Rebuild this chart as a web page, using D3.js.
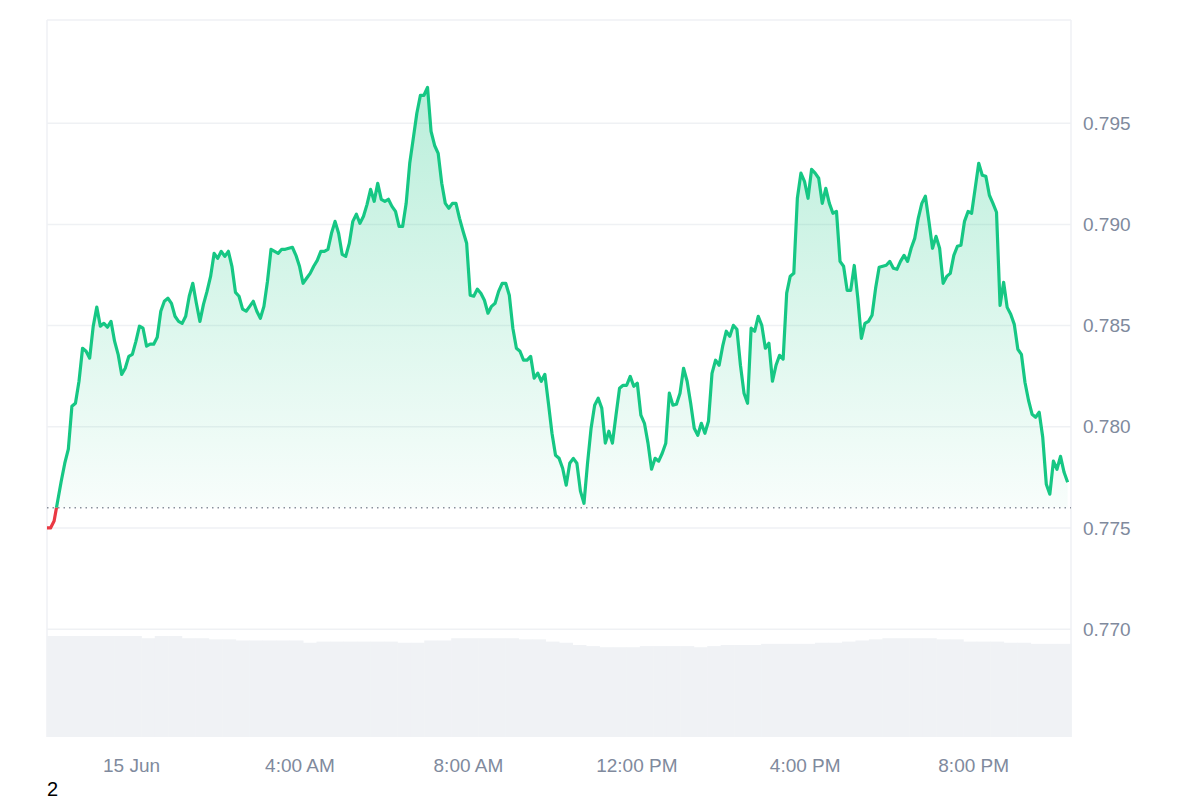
<!DOCTYPE html>
<html><head><meta charset="utf-8">
<script src="https://cdn.jsdelivr.net/npm/d3@7"></script>
<style>body{margin:0;background:#fff;font-family:"Liberation Sans",Arial,sans-serif}</style>
</head><body><svg id="c" width="1200" height="800"></svg>
<script>
const prices=[0.775,0.775,0.77534,0.77633,0.77731,0.7782,0.77889,0.78101,0.78116,0.78225,0.78388,0.78373,0.78339,0.78497,0.78591,0.78497,0.78511,0.78492,0.78521,0.78423,0.78358,0.78259,0.78289,0.78348,0.78358,0.78422,0.78497,0.78487,0.78398,0.78408,0.78408,0.78442,0.78571,0.7862,0.78635,0.7861,0.78546,0.78521,0.78511,0.78546,0.78645,0.78709,0.7861,0.78521,0.78605,0.78669,0.78743,0.78857,0.78832,0.78867,0.78842,0.78867,0.78793,0.78664,0.78645,0.78581,0.78571,0.78595,0.7862,0.78571,0.78536,0.78595,0.78719,0.78877,0.78867,0.78857,0.78877,0.78877,0.78882,0.78887,0.78847,0.78793,0.78709,0.78734,0.78758,0.78793,0.78822,0.78867,0.78867,0.78877,0.78956,0.79015,0.78956,0.78852,0.78842,0.78906,0.79015,0.7905,0.79005,0.7904,0.79099,0.79173,0.79114,0.79203,0.79124,0.79114,0.79124,0.79089,0.79064,0.7899,0.7899,0.79104,0.79302,0.79425,0.79549,0.79638,0.79638,0.79677,0.79460,0.7939,0.79351,0.79203,0.79104,0.7908,0.79104,0.79104,0.79030,0.78966,0.78907,0.78650,0.78645,0.7868,0.7866,0.78625,0.78561,0.78595,0.7861,0.78669,0.78709,0.78709,0.7865,0.78487,0.78388,0.78373,0.78329,0.78329,0.78348,0.78240,0.78265,0.78225,0.78259,0.78116,0.77968,0.77859,0.77844,0.77795,0.77711,0.77820,0.77844,0.77820,0.77682,0.77622,0.77820,0.77993,0.78106,0.78141,0.78092,0.77919,0.77978,0.77919,0.78057,0.78190,0.78205,0.78205,0.78249,0.78200,0.78215,0.78057,0.78017,0.77919,0.77790,0.77844,0.77830,0.77869,0.77919,0.78166,0.78107,0.78111,0.78166,0.78289,0.78225,0.78116,0.77993,0.77958,0.78017,0.77968,0.78027,0.78264,0.78329,0.78304,0.78398,0.78472,0.78447,0.78501,0.78482,0.78304,0.78166,0.78116,0.78487,0.78472,0.78546,0.78501,0.78388,0.78413,0.78225,0.78304,0.78353,0.78334,0.78660,0.78744,0.78758,0.79129,0.79253,0.79213,0.79129,0.79272,0.79253,0.79228,0.79104,0.79178,0.79104,0.79055,0.79064,0.78817,0.78793,0.78674,0.78674,0.78797,0.78635,0.78437,0.78511,0.78521,0.78551,0.78684,0.78788,0.78793,0.78798,0.78817,0.78783,0.78778,0.78817,0.78847,0.78817,0.78882,0.78931,0.79030,0.79104,0.79139,0.79015,0.78882,0.78941,0.78882,0.78709,0.78743,0.78758,0.78847,0.78892,0.78897,0.79015,0.79064,0.79055,0.79178,0.79302,0.79243,0.79238,0.79144,0.79104,0.7906,0.78600,0.78714,0.78590,0.78556,0.78506,0.78383,0.78358,0.78220,0.78131,0.78062,0.78047,0.78072,0.77948,0.77716,0.77667,0.77830,0.77790,0.77854,0.77775,0.77726];
const volumes=[9,9,9,9,9,9,9,8.8,9,9,8.8,8.8,8.7,8.7,8.6,8.6,8.6,8.6,8.6,8.4,8.5,8.5,8.5,8.5,8.5,8.5,8.4,8.4,8.6,8.6,8.8,8.8,8.8,8.8,8.8,8.7,8.7,8.5,8.4,8.2,8.1,8.0,8.0,8.0,8.1,8.1,8.1,8.1,8.0,8.1,8.2,8.2,8.2,8.3,8.3,8.3,8.3,8.4,8.4,8.5,8.6,8.7,8.8,8.8,8.8,8.8,8.7,8.7,8.5,8.5,8.5,8.4,8.4,8.3,8.3,8.3];
const yTicks=[0.770,0.775,0.780,0.785,0.790,0.795];
const xTickLabels=["15 Jun","4:00 AM","8:00 AM","12:00 PM","4:00 PM","8:00 PM"];
const xTickHours=[0,4,8,12,16,20];
const baseline=0.776;
const startHour=-2.02, endHour=22.3;

const svg=d3.select("#c");
const L=47,R=1071,T=20,B=737;
const FONT="Liberation Sans, Arial, sans-serif";
const x=d3.scaleLinear().domain([startHour,endHour]).range([L,R]);
const y=d3.scaleLinear().domain([0.76467,0.8001]).range([B,T]);
const step=(endHour-startHour-0.08)/(prices.length-1);
const data=prices.map((p,i)=>({h:startHour+i*step,p}));

svg.append("g").selectAll("line").data(yTicks).join("line")
 .attr("x1",L).attr("x2",R).attr("y1",d=>y(d)).attr("y2",d=>y(d)).attr("stroke","#eff1f4").attr("stroke-width",1.5);
svg.append("line").attr("x1",L).attr("x2",R).attr("y1",T).attr("y2",T).attr("stroke","#eff1f4").attr("stroke-width",1.5);
svg.append("line").attr("x1",L).attr("x2",L).attr("y1",T).attr("y2",B).attr("stroke","#eff1f4").attr("stroke-width",1.5);
svg.append("line").attr("x1",R).attr("x2",R).attr("y1",T).attr("y2",B).attr("stroke","#eff1f4").attr("stroke-width",1.5);

const vb=d3.scaleBand().domain(d3.range(volumes.length)).range([L,R]).padding(0);
const vy=d3.scaleLinear().domain([0,9]).range([B,636]);
svg.append("g").selectAll("rect").data(volumes).join("rect")
 .attr("x",(d,i)=>vb(i)).attr("width",vb.bandwidth()+0.5).attr("y",d=>vy(d)).attr("height",d=>B-vy(d)).attr("fill","#f0f2f5");

const defs=svg.append("defs");
const g=defs.append("linearGradient").attr("id","gg").attr("x1",0).attr("x2",0)
 .attr("gradientUnits","userSpaceOnUse").attr("y1",y(0.797)).attr("y2",y(baseline));
g.append("stop").attr("offset",0).attr("stop-color","#16c784").attr("stop-opacity",0.3);
g.append("stop").attr("offset",1).attr("stop-color","#16c784").attr("stop-opacity",0.03);
defs.append("clipPath").attr("id","above").append("rect").attr("x",0).attr("y",0).attr("width",1200).attr("height",y(baseline));
defs.append("clipPath").attr("id","below").append("rect").attr("x",0).attr("y",y(baseline)).attr("width",1200).attr("height",800);

const area=d3.area().x(d=>x(d.h)).y0(y(baseline)).y1(d=>y(d.p));
svg.append("path").datum(data).attr("d",area).attr("fill","url(#gg)").attr("clip-path","url(#above)");

svg.append("line").attr("x1",L).attr("x2",R).attr("y1",y(baseline)).attr("y2",y(baseline))
 .attr("stroke","#8a909c").attr("stroke-width",1.5).attr("stroke-dasharray","1.5,4");

const line=d3.line().x(d=>x(d.h)).y(d=>y(d.p));
svg.append("path").datum(data).attr("d",line).attr("fill","none").attr("stroke","#16c784").attr("stroke-width",3.2).attr("stroke-linejoin","round").attr("clip-path","url(#above)");
svg.append("path").datum(data).attr("d",line).attr("fill","none").attr("stroke","#ea3943").attr("stroke-width",3.2).attr("stroke-linejoin","round").attr("clip-path","url(#below)");

const ya=d3.axisRight(y).tickValues(yTicks).tickFormat(d3.format(".3f")).tickSize(0).tickPadding(12);
const yg=svg.append("g").attr("transform",`translate(${R},0)`).call(ya);
yg.select(".domain").remove();
yg.selectAll("text").attr("fill","#808a9d").style("font-size","19px").style("font-family",FONT);

const xa=d3.axisBottom(x).tickValues(xTickHours).tickFormat((d,i)=>xTickLabels[i]).tickSize(0).tickPadding(22);
const xg=svg.append("g").attr("transform",`translate(-1,${B})`).call(xa);
xg.select(".domain").remove();
xg.selectAll("text").attr("fill","#808a9d").style("font-size","19px").style("font-family",FONT);

svg.append("text").attr("x",47).attr("y",796).text("2").attr("fill","#000").style("font-size","20px").style("font-family",FONT);
</script></body></html>
